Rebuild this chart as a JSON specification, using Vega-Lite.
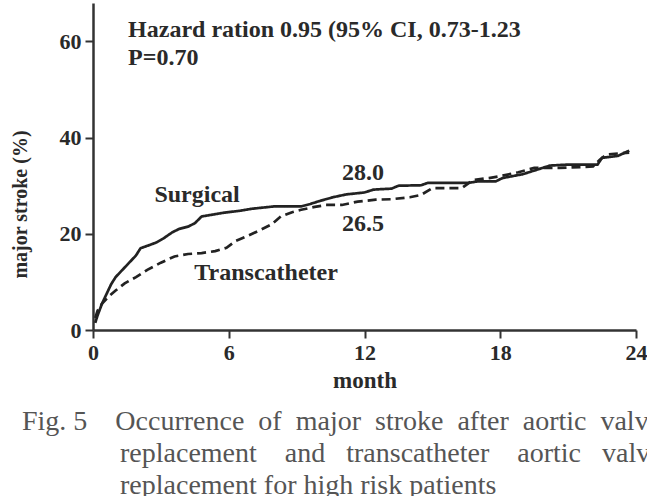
{
  "$schema": "https://vega.github.io/schema/vega-lite/v6.json",
  "autosize": "none",
  "width": 543,
  "height": 327,
  "padding": {"left": 93, "top": 3, "right": 11, "bottom": 166},
  "background": "white",
  "config": {
    "view": {"stroke": null},
    "font": "Liberation Serif"
  },
  "title": {
    "text": [
      "Fig.\u00a05\u00a0\u00a0\u00a0\u00a0Occurrence\u00a0\u00a0of\u00a0\u00a0major\u00a0\u00a0stroke\u00a0\u00a0after\u00a0\u00a0aortic\u00a0\u00a0valve",
      "\u200b\u00a0\u00a0\u00a0\u00a0\u00a0\u00a0\u00a0\u00a0\u00a0\u00a0\u00a0\u00a0\u00a0\u00a0replacement\u00a0\u00a0\u00a0\u00a0and\u00a0\u00a0\u00a0transcatheter\u00a0\u00a0\u00a0\u00a0aortic\u00a0\u00a0\u00a0valve",
      "\u200b\u00a0\u00a0\u00a0\u00a0\u00a0\u00a0\u00a0\u00a0\u00a0\u00a0\u00a0\u00a0\u00a0\u00a0replacement for high risk patients"
    ],
    "orient": "bottom",
    "anchor": "start",
    "align": "left",
    "frame": "group",
    "baseline": "alphabetic",
    "offset": 38,
    "dx": -71,
    "lineHeight": 32,
    "font": "Liberation Serif",
    "fontSize": 28,
    "fontWeight": "normal",
    "color": "#555555"
  },
  "datasets": {
    "curves": [
      {"month": 0.1, "stroke": 1.5, "group": "Surgical"},
      {"month": 0.2, "stroke": 3, "group": "Surgical"},
      {"month": 0.4, "stroke": 5.5, "group": "Surgical"},
      {"month": 0.6, "stroke": 7.5, "group": "Surgical"},
      {"month": 0.8, "stroke": 9.5, "group": "Surgical"},
      {"month": 1.0, "stroke": 11, "group": "Surgical"},
      {"month": 1.3, "stroke": 12.5, "group": "Surgical"},
      {"month": 1.6, "stroke": 14, "group": "Surgical"},
      {"month": 1.9, "stroke": 15.5, "group": "Surgical"},
      {"month": 2.1, "stroke": 17, "group": "Surgical"},
      {"month": 2.4, "stroke": 17.5, "group": "Surgical"},
      {"month": 2.8, "stroke": 18.2, "group": "Surgical"},
      {"month": 3.1, "stroke": 19, "group": "Surgical"},
      {"month": 3.5, "stroke": 20.3, "group": "Surgical"},
      {"month": 3.8, "stroke": 21, "group": "Surgical"},
      {"month": 4.2, "stroke": 21.5, "group": "Surgical"},
      {"month": 4.5, "stroke": 22.2, "group": "Surgical"},
      {"month": 4.8, "stroke": 23.6, "group": "Surgical"},
      {"month": 5.3, "stroke": 24, "group": "Surgical"},
      {"month": 5.8, "stroke": 24.4, "group": "Surgical"},
      {"month": 6.5, "stroke": 24.8, "group": "Surgical"},
      {"month": 7.0, "stroke": 25.2, "group": "Surgical"},
      {"month": 8.0, "stroke": 25.7, "group": "Surgical"},
      {"month": 9.2, "stroke": 25.7, "group": "Surgical"},
      {"month": 9.6, "stroke": 26.2, "group": "Surgical"},
      {"month": 10.0, "stroke": 26.8, "group": "Surgical"},
      {"month": 10.6, "stroke": 27.6, "group": "Surgical"},
      {"month": 11.2, "stroke": 28.2, "group": "Surgical"},
      {"month": 12.0, "stroke": 28.6, "group": "Surgical"},
      {"month": 12.4, "stroke": 29.2, "group": "Surgical"},
      {"month": 13.2, "stroke": 29.4, "group": "Surgical"},
      {"month": 13.5, "stroke": 30.0, "group": "Surgical"},
      {"month": 14.5, "stroke": 30.1, "group": "Surgical"},
      {"month": 14.8, "stroke": 30.6, "group": "Surgical"},
      {"month": 16.6, "stroke": 30.6, "group": "Surgical"},
      {"month": 17.0, "stroke": 30.9, "group": "Surgical"},
      {"month": 17.8, "stroke": 30.9, "group": "Surgical"},
      {"month": 18.1, "stroke": 31.6, "group": "Surgical"},
      {"month": 19.0, "stroke": 32.4, "group": "Surgical"},
      {"month": 19.6, "stroke": 33.3, "group": "Surgical"},
      {"month": 20.2, "stroke": 34.2, "group": "Surgical"},
      {"month": 21.0, "stroke": 34.4, "group": "Surgical"},
      {"month": 22.3, "stroke": 34.4, "group": "Surgical"},
      {"month": 22.5, "stroke": 35.8, "group": "Surgical"},
      {"month": 23.2, "stroke": 36.2, "group": "Surgical"},
      {"month": 23.7, "stroke": 37.3, "group": "Surgical"},
      {"month": 0.1, "stroke": 2.5, "group": "Transcatheter"},
      {"month": 0.2, "stroke": 4, "group": "Transcatheter"},
      {"month": 0.4, "stroke": 5.5, "group": "Transcatheter"},
      {"month": 0.7, "stroke": 7, "group": "Transcatheter"},
      {"month": 1.0, "stroke": 8.2, "group": "Transcatheter"},
      {"month": 1.4, "stroke": 9.7, "group": "Transcatheter"},
      {"month": 1.9, "stroke": 11, "group": "Transcatheter"},
      {"month": 2.4, "stroke": 12.5, "group": "Transcatheter"},
      {"month": 3.0, "stroke": 14, "group": "Transcatheter"},
      {"month": 3.6, "stroke": 15.3, "group": "Transcatheter"},
      {"month": 4.2, "stroke": 15.8, "group": "Transcatheter"},
      {"month": 4.8, "stroke": 16, "group": "Transcatheter"},
      {"month": 5.4, "stroke": 16.4, "group": "Transcatheter"},
      {"month": 5.9, "stroke": 17.1, "group": "Transcatheter"},
      {"month": 6.3, "stroke": 18.5, "group": "Transcatheter"},
      {"month": 6.8, "stroke": 19.5, "group": "Transcatheter"},
      {"month": 7.4, "stroke": 20.8, "group": "Transcatheter"},
      {"month": 7.9, "stroke": 22, "group": "Transcatheter"},
      {"month": 8.3, "stroke": 23.6, "group": "Transcatheter"},
      {"month": 8.8, "stroke": 24.5, "group": "Transcatheter"},
      {"month": 9.2, "stroke": 25, "group": "Transcatheter"},
      {"month": 9.8, "stroke": 25.6, "group": "Transcatheter"},
      {"month": 10.3, "stroke": 26, "group": "Transcatheter"},
      {"month": 11.0, "stroke": 26, "group": "Transcatheter"},
      {"month": 11.7, "stroke": 26.7, "group": "Transcatheter"},
      {"month": 12.5, "stroke": 27.1, "group": "Transcatheter"},
      {"month": 13.2, "stroke": 27.2, "group": "Transcatheter"},
      {"month": 14.0, "stroke": 27.6, "group": "Transcatheter"},
      {"month": 14.5, "stroke": 28.1, "group": "Transcatheter"},
      {"month": 15.0, "stroke": 29.5, "group": "Transcatheter"},
      {"month": 16.3, "stroke": 29.5, "group": "Transcatheter"},
      {"month": 16.8, "stroke": 31.2, "group": "Transcatheter"},
      {"month": 17.5, "stroke": 31.6, "group": "Transcatheter"},
      {"month": 18.0, "stroke": 32, "group": "Transcatheter"},
      {"month": 18.8, "stroke": 32.8, "group": "Transcatheter"},
      {"month": 19.5, "stroke": 33.7, "group": "Transcatheter"},
      {"month": 20.6, "stroke": 33.7, "group": "Transcatheter"},
      {"month": 22.1, "stroke": 34, "group": "Transcatheter"},
      {"month": 22.4, "stroke": 35.4, "group": "Transcatheter"},
      {"month": 22.7, "stroke": 36.5, "group": "Transcatheter"},
      {"month": 23.2, "stroke": 36.7, "group": "Transcatheter"},
      {"month": 23.7, "stroke": 36.9, "group": "Transcatheter"}
    ],
    "hazard": [
      {"month": 1.55, "stroke": 61.0, "label": "Hazard ration 0.95 (95% CI, 0.73-1.23"},
      {"month": 1.55, "stroke": 55.2, "label": "P=0.70"}
    ],
    "labels": [
      {"month": 4.6, "stroke": 26.7, "label": "Surgical"},
      {"month": 7.65, "stroke": 10.4, "label": "Transcatheter"},
      {"month": 11.93, "stroke": 31.25, "label": "28.0"},
      {"month": 11.93, "stroke": 20.5, "label": "26.5"}
    ]
  },
  "layer": [
    {
      "data": {"name": "curves"},
      "mark": {"type": "line", "color": "#222222", "strokeWidth": 2.7},
      "encoding": {
        "x": {
          "field": "month", "type": "quantitative",
          "scale": {"domain": [0, 24], "nice": false},
          "axis": {
            "values": [0, 6, 12, 18, 24],
            "title": "month",
            "grid": false,
            "domainColor": "#333333", "domainWidth": 2.5,
            "tickColor": "#333333", "tickWidth": 2, "tickSize": 8,
            "labelFont": "Liberation Serif", "labelFontSize": 22, "labelFontWeight": "bold",
            "labelColor": "#2a2a2a", "labelPadding": 4, "labelFlush": false,
            "titleFont": "Liberation Serif", "titleFontSize": 23, "titleFontWeight": "bold",
            "titleColor": "#2a2a2a", "titlePadding": 6
          }
        },
        "y": {
          "field": "stroke", "type": "quantitative",
          "scale": {"domain": [0, 68], "nice": false},
          "axis": {
            "values": [0, 20, 40, 60],
            "title": "major stroke (%)",
            "grid": false,
            "domainColor": "#333333", "domainWidth": 2.5,
            "tickColor": "#333333", "tickWidth": 2, "tickSize": 8,
            "labelFont": "Liberation Serif", "labelFontSize": 22, "labelFontWeight": "bold",
            "labelColor": "#2a2a2a", "labelPadding": 4, "labelFlush": false,
            "titleFont": "Liberation Serif", "titleFontSize": 20, "titleFontWeight": "bold",
            "titleColor": "#2a2a2a", "titleX": -63, "titleY": 201
          }
        },
        "strokeDash": {
          "field": "group", "type": "nominal",
          "scale": {"domain": ["Surgical", "Transcatheter"], "range": [[1, 0], [9, 5]]},
          "legend": null
        }
      }
    },
    {
      "data": {"name": "hazard"},
      "mark": {"type": "text", "align": "left", "baseline": "alphabetic", "font": "Liberation Serif", "fontSize": 24, "fontWeight": "bold", "color": "#2a2a2a"},
      "encoding": {
        "x": {"field": "month", "type": "quantitative"},
        "y": {"field": "stroke", "type": "quantitative"},
        "text": {"field": "label"}
      }
    },
    {
      "data": {"name": "labels"},
      "mark": {"type": "text", "align": "center", "baseline": "alphabetic", "font": "Liberation Serif", "fontSize": 24, "fontWeight": "bold", "color": "#2a2a2a"},
      "encoding": {
        "x": {"field": "month", "type": "quantitative"},
        "y": {"field": "stroke", "type": "quantitative"},
        "text": {"field": "label"}
      }
    }
  ]
}
